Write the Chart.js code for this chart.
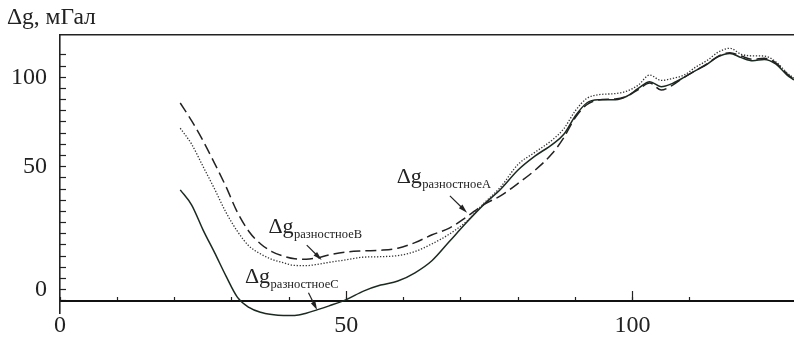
<!DOCTYPE html>
<html>
<head>
<meta charset="utf-8">
<script src="https://cdn.jsdelivr.net/npm/chart.js@4.4.0/dist/chart.umd.min.js"></script>
<style>
    html, body { margin: 0; padding: 0; background: #fff; }
    #wrap { width: 794px; height: 339px; }
</style>
</head>
<body>
<div id="wrap"><canvas id="gravChart" width="794" height="339"></canvas></div>
<script>
/*
   Δg difference profiles (A dotted, B dashed, C solid)
   Values.
*/

// distance along profile (shared by the three curves)
const distance = [21, 23, 25, 27, 29, 31, 33, 35, 37, 39, 41, 43, 45, 47, 50, 53, 56, 59, 62, 65,
    68, 71, 74, 77, 80, 83, 86, 88, 90, 92, 94, 97, 99, 101, 103, 105, 107, 109, 111, 113,
    115, 117, 119, 121, 123, 125, 127, 128.2];

const dgA = [77.2, 70, 60, 50, 39.5, 31, 24.5, 21, 18.5, 17, 15.8, 15.7, 16.3, 17.2, 18.3, 19.5, 19.7, 20.2, 22, 25.5,
    29.8, 35.5, 43.5, 51, 61, 66.5, 72, 77, 85, 90.5, 92.2, 92.7, 93.8, 96.5, 101, 98.6, 99.5, 101, 104.5, 107.5,
    111.3, 113, 110.3, 109.6, 109.5, 107, 102, 99.6];

const dgB = [88.5, 80.5, 71.5, 61.5, 51, 39.5, 31, 25.5, 22, 20, 18.8, 18.6, 19.2, 20.5, 21.8, 22.3, 22.6, 23.5, 26, 29.5,
    32.5, 37.5, 43, 47, 52.5, 58.5, 66, 73, 82, 87.7, 89.8, 90.3, 91.5, 94.5, 97.5, 94.3, 96.5, 100, 103, 106,
    109.5, 111, 109.5, 108, 108.5, 106.5, 101.5, 99];

const dgC = [49.6, 42.8, 31.6, 21.5, 11, 1.5, -3, -5.2, -6.2, -6.6, -6.6, -5.6, -4, -2.3, 0.5, 4.3, 7, 8.8, 12.5, 18,
    26.5, 35, 43, 50, 58.5, 64.8, 70, 74.5, 82.7, 88.5, 89.9, 90, 91.5, 95, 98, 95.8, 97.3, 100, 103, 105.8,
    109.3, 110.7, 108.8, 107.4, 108, 106, 101, 98.8];

// tick labels as they are printed on the source figure
const xTickLabels = { 0: '0', 50: '50', 100: '100' };
const yTickLabels = { 5: '0', 60: '50', 100: '100' };

const X_MIN = 0, X_MAX = 128.2;
const Y_MIN = -5.5, Y_MAX = 119.2;

const serif = '"Liberation Serif", "DejaVu Serif", serif';
const ink = '#222';

// curve captions with pointer arrows (data coordinates)
const curveNotes = [
    { sub: 'разностноеA', tx: 58.8, ty: 52.5, from: [68.1, 46.9], to: [71.1, 39.4] },
    { sub: 'разностноеB', tx: 36.4, ty: 30.2, from: [43.1, 24.9], to: [45.7, 18.2] },
    { sub: 'разностноеC', tx: 32.3, ty: 7.9, from: [43.4, 3.6], to: [44.9, -4.2] }
];

const toPoints = (ys) => ys.map((v, i) => ({ x: distance[i], y: v }));

const notePlugin = {
    id: 'curveNotes',
    afterDatasetsDraw(chart) {
        const { ctx } = chart;
        const sx = chart.scales.x, sy = chart.scales.y;
        ctx.save();
        ctx.fillStyle = ink;
        ctx.strokeStyle = ink;
        ctx.textAlign = 'left';
        ctx.textBaseline = 'alphabetic';
        curveNotes.forEach(n => {
            const px = sx.getPixelForValue(n.tx), py = sy.getPixelForValue(n.ty);
            ctx.font = '22px ' + serif;
            ctx.fillText('Δg', px, py);
            const w = ctx.measureText('Δg').width;
            ctx.font = '12.5px ' + serif;
            ctx.fillText(n.sub, px + w + 0.5, py + 4.5);

            // arrow
            const x1 = sx.getPixelForValue(n.from[0]), y1 = sy.getPixelForValue(n.from[1]);
            const x2 = sx.getPixelForValue(n.to[0]), y2 = sy.getPixelForValue(n.to[1]);
            const a = Math.atan2(y2 - y1, x2 - x1);
            const c = Math.cos(a), s = Math.sin(a);
            ctx.lineWidth = 1.2;
            ctx.beginPath();
            ctx.moveTo(x1, y1);
            ctx.lineTo(x2 - 6 * c, y2 - 6 * s);
            ctx.stroke();
            ctx.beginPath();
            ctx.moveTo(x2, y2);
            ctx.lineTo(x2 - 9 * c + 2.5 * s, y2 - 9 * s - 2.5 * c);
            ctx.lineTo(x2 - 9 * c - 2.5 * s, y2 - 9 * s + 2.5 * c);
            ctx.closePath();
            ctx.fill();
        });
        ctx.restore();
    }
};

const noPadX = (s) => { s.paddingLeft = 0; s.paddingRight = 0; };

const lineBase = {
    xAxisID: 'x',
    yAxisID: 'y',
    pointRadius: 0,
    fill: false,
    clip: false,
    cubicInterpolationMode: 'monotone'
};

new Chart(document.getElementById('gravChart'), {
    type: 'line',
    data: {
        datasets: [
            Object.assign({}, lineBase, {
                label: 'Δg разностноеA',
                data: toPoints(dgA),
                borderColor: '#333',
                borderWidth: 1.3,
                borderDash: [1.3, 1.7]
            }),
            Object.assign({}, lineBase, {
                label: 'Δg разностноеB',
                data: toPoints(dgB),
                borderColor: ink,
                borderWidth: 1.5,
                borderDash: [11, 5]
            }),
            Object.assign({}, lineBase, {
                label: 'Δg разностноеC',
                data: toPoints(dgC),
                borderColor: '#1b2a20',
                borderWidth: 1.5
            })
        ]
    },
    options: {
        responsive: false,
        animation: false,
        devicePixelRatio: 1,
        layout: { padding: { left: 7, top: 0, right: 0, bottom: 26 } },
        plugins: {
            legend: { display: false },
            tooltip: { enabled: false },
            title: {
                display: true,
                text: 'Δg, мГал',
                align: 'start',
                color: ink,
                font: { family: serif, size: 23.5, weight: 'normal' },
                padding: { top: 3.5, bottom: 2.7 }
            }
        },
        scales: {
            x: {
                type: 'linear',
                position: { y: 0 },
                min: X_MIN,
                max: X_MAX,
                afterBuildTicks: s => { s.ticks = s.ticks.filter(t => t.value % 10 === 0); },
                afterFit: noPadX,
                ticks: {
                    stepSize: 10,
                    autoSkip: false,
                    maxRotation: 0,
                    padding: 16,
                    color: ink,
                    font: { family: serif, size: 24 },
                    callback: v => xTickLabels[v] ?? ''
                },
                grid: { drawOnChartArea: false, tickLength: -5, tickWidth: 1.2, tickColor: ink },
                border: { display: true, color: '#111', width: 2 }
            },
            xMajor: {
                type: 'linear',
                axis: 'x',
                position: { y: 0 },
                min: X_MIN,
                max: X_MAX,
                afterBuildTicks: s => { s.ticks = s.ticks.filter(t => t.value % 50 === 0 && t.value > 0); },
                afterFit: noPadX,
                ticks: { display: false, stepSize: 50, autoSkip: false },
                grid: { drawOnChartArea: false, tickLength: -10, tickWidth: 1.2, tickColor: ink },
                border: { display: false }
            },
            xTop: {
                type: 'linear',
                axis: 'x',
                position: { y: Y_MAX },
                min: X_MIN,
                max: X_MAX,
                afterFit: noPadX,
                ticks: { display: false },
                grid: { drawOnChartArea: false, drawTicks: false },
                border: { display: true, color: ink, width: 1.6 }
            },
            y: {
                type: 'linear',
                position: 'left',
                min: Y_MIN,
                max: Y_MAX,
                afterBuildTicks: s => { s.ticks = s.ticks.filter(t => Math.abs(t.value % 5) < 1e-6); },
                afterFit: s => { s.width = 53; s.paddingTop = 0; s.paddingBottom = 0; },
                ticks: {
                    stepSize: 5,
                    autoSkip: false,
                    padding: 19,
                    color: ink,
                    font: { family: serif, size: 24 },
                    callback: v => yTickLabels[v] ?? ''
                },
                grid: { drawOnChartArea: false, tickLength: -6, tickWidth: 1.2, tickColor: ink },
                border: { display: true, color: ink, width: 1.6 }
            }
        }
    },
    plugins: [notePlugin]
});
</script>
</body>
</html>
